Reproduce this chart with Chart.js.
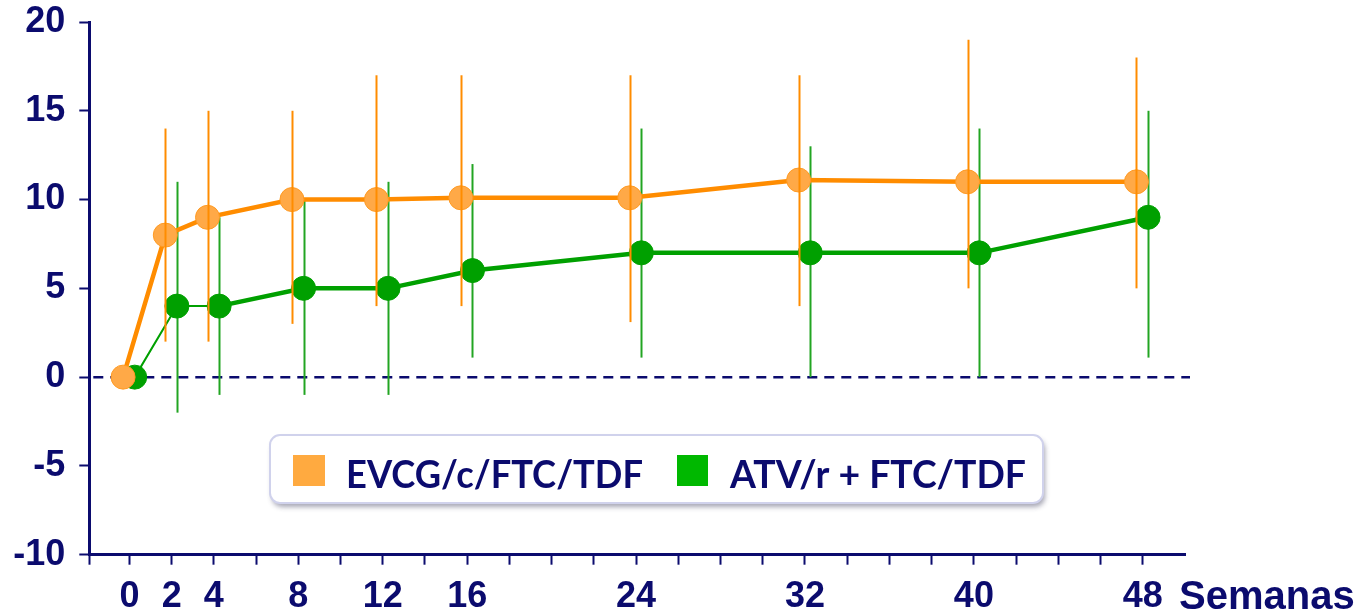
<!DOCTYPE html>
<html>
<head>
<meta charset="utf-8">
<script src="https://cdn.jsdelivr.net/npm/chart.js@4/dist/chart.umd.min.js"></script>
<style>
  html, body { margin: 0; padding: 0; background: #fff; }
  #wrap { width: 1370px; height: 614px; }
</style>
</head>
<body>
<div id="wrap"><canvas id="chart"></canvas></div>
<script>
// semanas
const weeks = [0, 2, 4, 8, 12, 16, 24, 32, 40, 48];
const weekLabels = [0, 2, 4, 8, 12, 16, 24, 32, 40, 48];
const yTicks = [-10, -5, 0, 5, 10, 15, 20];

// EVCG/c/FTC/TDF
const evcgMean = [0, 8, 9, 10, 10, 10.1, 10.1, 11.1, 11, 11];
const evcgLow  = [null, 2, 2, 3, 4, 4, 3.1, 4, 5, 5];
const evcgHigh = [null, 14, 15, 15, 17, 17, 17, 17, 19, 18];

// ATV/r + FTC/TDF
const atvMean = [0, 4, 4, 5, 5, 6, 7, 7, 7, 9];
const atvLow  = [null, -2, -1, -1, -1, 1.1, 1.1, 0, 0, 1.1];
const atvHigh = [null, 11, 9, 10, 11, 12, 14, 13, 14, 15];

const seriesNames = ['EVCG/c/FTC/TDF', 'ATV/r + FTC/TDF'];
const navy = '#0b0b6e';
const orange = '#ff8c00';
const green = '#00a000';
const tickFont = { family: '"Liberation Sans", Arial, sans-serif', size: 36, weight: 'bold' };

const ctx = document.getElementById('chart').getContext('2d');

// barras de error
const drawErrorBars = (chart, dsIndex, low, high, color) => {
    const meta = chart.getDatasetMeta(dsIndex);
    const yScale = chart.scales.y;
    const c = chart.ctx;
    c.save();
    c.strokeStyle = color;
    c.lineWidth = 2;
    meta.data.forEach((pt, i) => {
        if (low[i] == null) return;
        c.beginPath();
        c.moveTo(Math.round(pt.x) + 0.5, yScale.getPixelForValue(high[i]));
        c.lineTo(Math.round(pt.x) + 0.5, yScale.getPixelForValue(low[i]));
        c.stroke();
    });
    c.restore();
};

const extras = {
    id: 'extras',
    beforeDatasetsDraw(chart) {
        const { ctx: c, chartArea, scales } = chart;
        // línea de cero punteada
        const y0 = scales.y.getPixelForValue(0);
        c.save();
        c.strokeStyle = navy;
        c.lineWidth = 2.5;
        c.setLineDash([10, 7]);
        c.beginPath();
        c.moveTo(chartArea.left + 4, y0);
        c.lineTo(chartArea.right + 5, y0);
        c.stroke();
        c.restore();
        drawErrorBars(chart, 1, atvLow, atvHigh, '#22a522');
    },
    afterDatasetsDraw(chart) {
        drawErrorBars(chart, 0, evcgLow, evcgHigh, orange);
    },
    afterDraw(chart) {
        const c = chart.ctx;
        const area = chart.chartArea;
        // título eje x
        c.save();
        c.fillStyle = navy;
        c.font = 'bold 40px "Liberation Sans", Arial, sans-serif';
        c.textBaseline = 'alphabetic';
        c.fillText('Semanas', area.right - 6, 609, 184);
        c.restore();

        // leyenda
        const bx = 270, by = 435, bw = 773, bh = 68;
        c.save();
        c.shadowColor = 'rgba(60,60,90,0.45)';
        c.shadowBlur = 5;
        c.shadowOffsetX = 2;
        c.shadowOffsetY = 4;
        c.fillStyle = '#fff';
        c.beginPath();
        c.roundRect(bx, by, bw, bh, 10);
        c.fill();
        c.shadowColor = 'transparent';
        c.strokeStyle = '#d0d2ec';
        c.lineWidth = 2;
        c.stroke();

        c.font = 'bold 39px Lato, "Open Sans", sans-serif';
        c.textBaseline = 'alphabetic';
        c.fillStyle = '#ffaa40';
        c.fillRect(293, 455, 32, 31);
        c.fillStyle = navy;
        c.fillText(seriesNames[0], 346, 488, 297);
        c.fillStyle = '#00b800';
        c.fillRect(677, 455, 31, 31);
        c.fillStyle = navy;
        c.fillText(seriesNames[1], 730, 488, 296);
        c.restore();
    }
};

const chart = new Chart(ctx, {
    type: 'line',
    data: {
        datasets: [
            {
                label: seriesNames[0],
                data: weeks.map((w, i) => ({ x: w - 0.3, y: evcgMean[i] })),
                borderColor: orange,
                borderWidth: 4.5,
                backgroundColor: '#ffa947',
                pointBackgroundColor: '#ffa947',
                pointBorderColor: '#ff9a22',
                pointBorderWidth: 1,
                pointRadius: 12,
                tension: 0
            },
            {
                label: seriesNames[1],
                data: weeks.map((w, i) => ({ x: w + 0.25, y: atvMean[i] })),
                borderColor: green,
                borderWidth: 4.5,
                segment: {
                    borderWidth: s => (s.p0DataIndex < 2 ? 2 : 4.5)
                },
                backgroundColor: green,
                pointBackgroundColor: green,
                pointBorderColor: green,
                pointBorderWidth: 1,
                pointRadius: 12,
                tension: 0
            }
        ]
    },
    options: {
        responsive: true,
        maintainAspectRatio: false,
        animation: false,
        layout: { padding: { left: 0, top: 22, right: 185, bottom: 0 } },
        plugins: {
            legend: { display: false },
            tooltip: { enabled: false }
        },
        scales: {
            x: {
                type: 'linear',
                min: -1.9,
                max: 50,
                afterFit: (scale) => {
                    scale.height = 59.3;
                    scale.paddingLeft = 0;
                    scale.paddingRight = 0;
                },
                afterBuildTicks: (scale) => {
                    const t = [{ value: -1.9 }];
                    for (let v = 0; v <= 48; v += 2) t.push({ value: v });
                    scale.ticks = t;
                },
                border: { display: true, color: navy, width: 3 },
                grid: {
                    drawOnChartArea: false,
                    drawTicks: true,
                    tickLength: 10,
                    tickWidth: 2,
                    tickColor: navy
                },
                ticks: {
                    autoSkip: false,
                    maxRotation: 0,
                    padding: 11,
                    color: navy,
                    font: tickFont,
                    callback: (v) => (weekLabels.includes(v) ? String(v) : '')
                }
            },
            y: {
                min: -10,
                max: 20,
                afterFit: (scale) => {
                    scale.width = 89.3;
                    scale.paddingTop = 0;
                    scale.paddingBottom = 0;
                },
                afterBuildTicks: (scale) => {
                    scale.ticks = yTicks.map(v => ({ value: v }));
                },
                border: { display: true, color: navy, width: 3 },
                grid: {
                    drawOnChartArea: false,
                    drawTicks: true,
                    tickLength: 10,
                    tickWidth: 2,
                    tickColor: navy
                },
                ticks: {
                    padding: 14,
                    color: navy,
                    font: tickFont
                }
            }
        }
    },
    plugins: [extras]
});
</script>
</body>
</html>
